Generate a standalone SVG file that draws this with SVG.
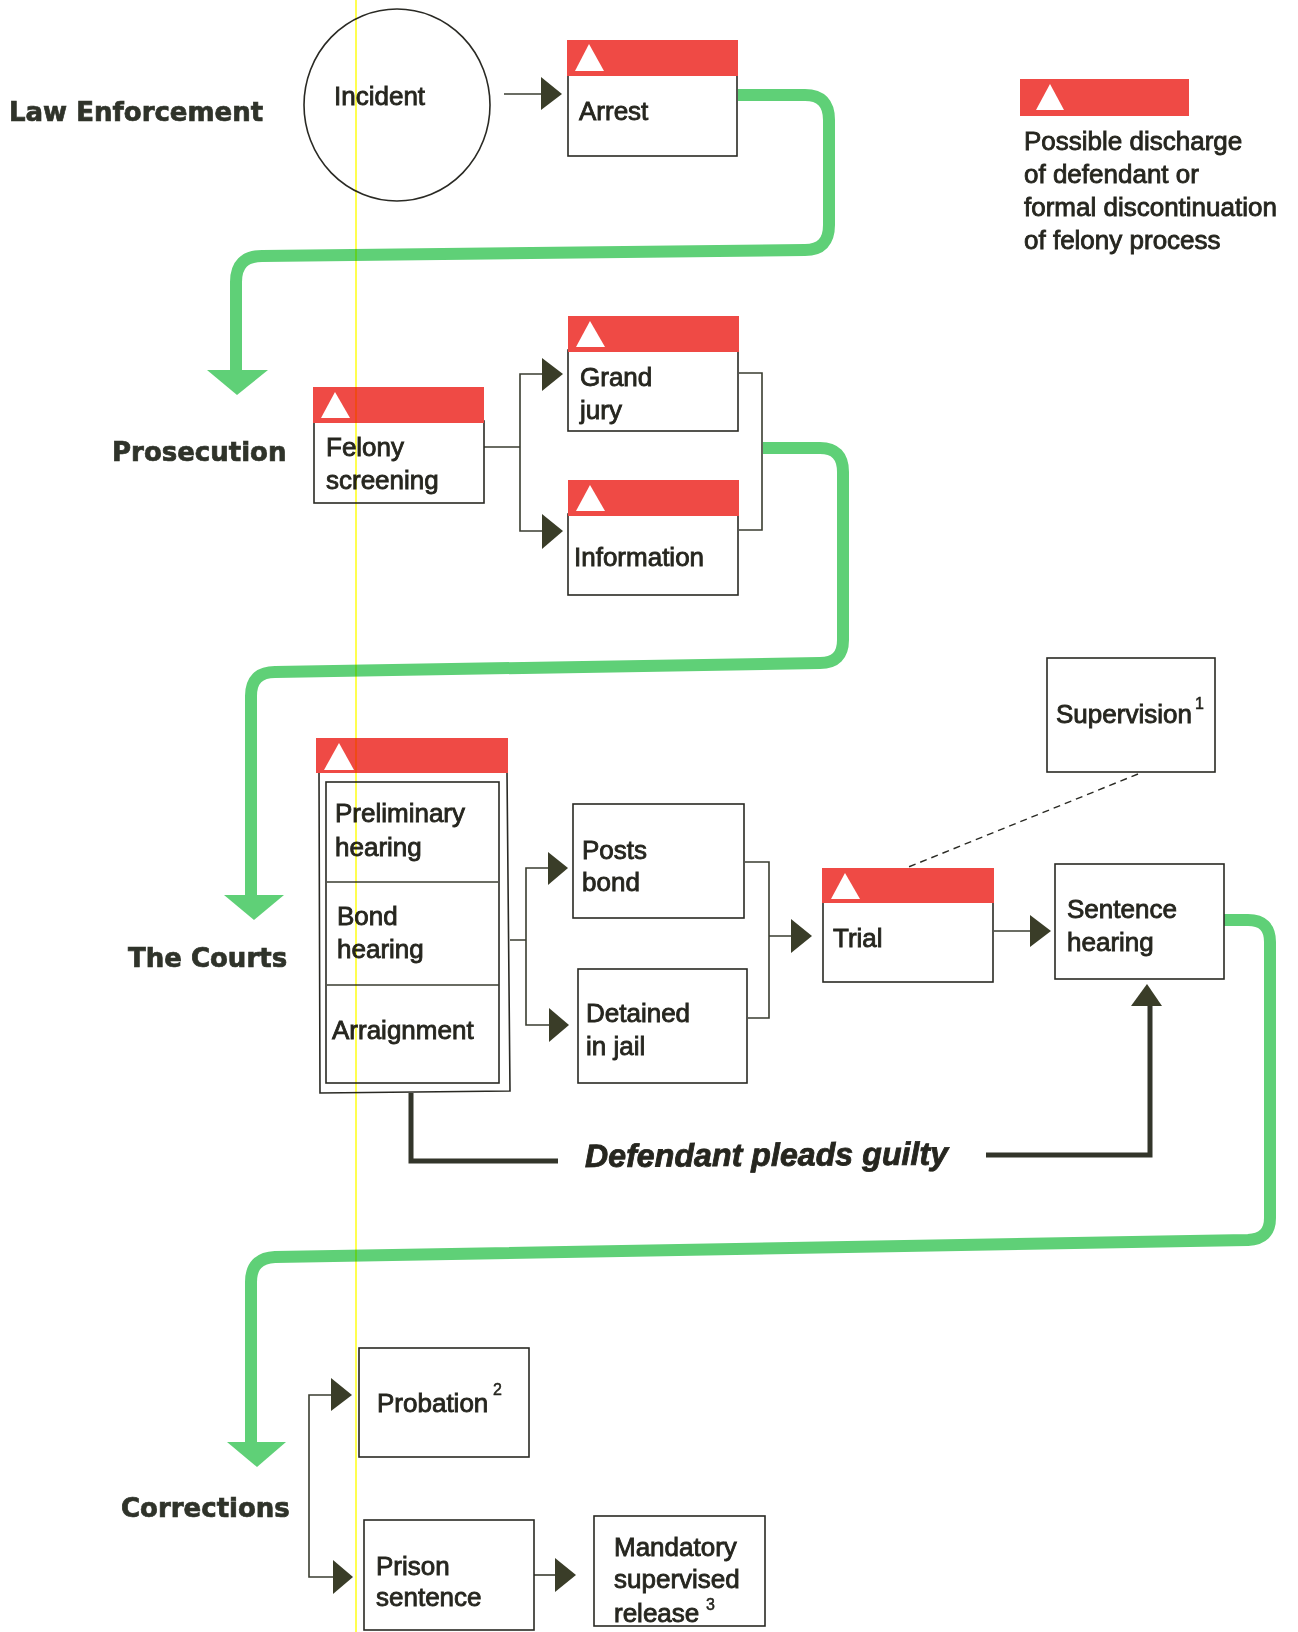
<svg xmlns="http://www.w3.org/2000/svg" width="1298" height="1632" viewBox="0 0 1298 1632">
<style>
text{font-family:"Liberation Sans",Arial,sans-serif;font-size:26px;fill:#26261f;stroke:#26261f;stroke-width:.85px}
.stage{font-family:"DejaVu Sans",sans-serif;font-weight:700;font-size:26px;fill:#2f332a;stroke:#2f332a;stroke-width:.7px}
.sup{font-size:16px;stroke-width:.5px}
.box{fill:#fff;stroke:#2a2a24;stroke-width:1.6}
.red{fill:#ef4a45}
.tri{fill:#fff}
.thin{fill:none;stroke:#3a3d30;stroke-width:1.6}
.green{fill:none;stroke:#5fd077;stroke-width:12}
.ghead{fill:#5fd077}
.head{fill:#3a3d28}
.thick{fill:none;stroke:#33352a;stroke-width:5}
.dash{fill:none;stroke:#2a2a24;stroke-width:1.4;stroke-dasharray:7 5}
</style>
<rect width="1298" height="1632" fill="#fff"/>
<g id="connectors">
<path class="thin" d="M504 94H542"/><polygon class="head" points="541,77 562,94 541,110"/>
<path class="green" d="M738 95H805Q829 95 829 120V225Q829 250 805 250L262 256Q236 256 236 282V372"/><polygon class="ghead" points="207,370 268,370 237,395"/>
<path class="thin" d="M484 447H520M543 374H520V531H543"/><polygon class="head" points="542,358 563,374 542,391"/><polygon class="head" points="542,514 563,531 542,549"/>
<path class="thin" d="M739 373H762V530H739"/>
<path class="green" d="M763 448H820Q843 448 843 472V640Q843 663 820 663L275 672Q251 672 251 696V897"/><polygon class="ghead" points="224,895 284,895 254,920"/>
<path class="thin" d="M510 940H526M549 868H526V1025H549"/><polygon class="head" points="548,852 568,868 548,885"/><polygon class="head" points="549,1008 569,1025 549,1042"/>
<path class="thin" d="M745 862H769V1018H748M769 936H792"/><polygon class="head" points="791,919 812,936 791,953"/>
<path class="thin" d="M994 931H1031"/><polygon class="head" points="1030,915 1051,931 1030,947"/>
<path class="dash" d="M1138 774L906 868"/>
<path class="green" d="M1224 920H1248Q1270 920 1270 942V1218Q1270 1239 1248 1240L275 1257Q251 1258 251 1282V1444"/><polygon class="ghead" points="227,1442 286,1442 257,1467"/>
<path class="thick" d="M411 1093V1161H558"/>
<path class="thick" d="M986 1155H1150V1004"/><polygon class="head" points="1131,1006 1162,1006 1147,984"/>
<path class="thin" d="M331 1395H309V1577H333"/><polygon class="head" points="331,1378 352,1395 331,1411"/><polygon class="head" points="333,1560 353,1577 333,1594"/>
<path class="thin" d="M534 1575H556"/><polygon class="head" points="555,1558 576,1575 555,1592"/>
</g>
<g id="stage-labels">
<text class="stage" x="9" y="121">Law Enforcement</text>
<text class="stage" x="112" y="461">Prosecution</text>
<text class="stage" x="128" y="967">The Courts</text>
<text class="stage" x="121" y="1517">Corrections</text>
</g>
<g id="incident"><ellipse class="box" cx="397" cy="105" rx="93" ry="96"/><text x="334" y="105">Incident</text></g>
<g id="arrest"><rect class="box" x="568" y="74" width="169" height="82"/><rect class="red" x="567" y="40" width="171" height="36"/><polygon class="tri" points="589,44 575,71 604,71"/><text x="579" y="120">Arrest</text></g>
<g id="legend"><rect class="red" x="1020" y="79" width="169" height="37"/><polygon class="tri" points="1050,84 1036,110 1064,110"/>
<text x="1024" y="150">Possible discharge</text><text x="1024" y="183">of defendant or</text><text x="1024" y="216">formal discontinuation</text><text x="1024" y="249">of felony process</text></g>
<g id="felony-screening"><rect class="box" x="314" y="421" width="170" height="82"/><rect class="red" x="313" y="387" width="171" height="36"/><polygon class="tri" points="335,392 321,418 350,418"/><text x="326" y="456">Felony</text><text x="326" y="489">screening</text></g>
<g id="grand-jury"><rect class="box" x="568" y="350" width="170" height="81"/><rect class="red" x="568" y="316" width="171" height="36"/><polygon class="tri" points="590,321 576,347 605,347"/><text x="580" y="386">Grand</text><text x="580" y="419">jury</text></g>
<g id="information"><rect class="box" x="568" y="514" width="170" height="81"/><rect class="red" x="568" y="480" width="171" height="36"/><polygon class="tri" points="590,485 576,511 605,511"/><text x="574" y="566">Information</text></g>
<g id="court-hearings"><polygon class="box" points="319,772 507,772 510,1091 320,1093"/><rect class="red" x="316" y="738" width="192" height="35"/><polygon class="tri" points="339,743 324,770 354,770"/>
<rect class="box" x="326" y="782" width="173" height="301"/><path class="thin" d="M327 882H498M327 985H499"/>
<text x="335" y="822">Preliminary</text><text x="335" y="856">hearing</text><text x="337" y="925">Bond</text><text x="337" y="958">hearing</text><text x="332" y="1039">Arraignment</text></g>
<g id="posts-bond"><rect class="box" x="573" y="804" width="171" height="114"/><text x="582" y="859">Posts</text><text x="582" y="891">bond</text></g>
<g id="detained"><rect class="box" x="578" y="969" width="169" height="114"/><text x="586" y="1022">Detained</text><text x="586" y="1055">in jail</text></g>
<g id="trial"><rect class="box" x="823" y="901" width="170" height="81"/><rect class="red" x="822" y="868" width="172" height="35"/><polygon class="tri" points="845,873 831,899 860,899"/><text x="833" y="947">Trial</text></g>
<g id="supervision"><rect class="box" x="1047" y="658" width="168" height="114"/><text x="1056" y="723">Supervision</text><text class="sup" x="1195" y="709">1</text></g>
<g id="sentence-hearing"><rect class="box" x="1055" y="864" width="169" height="115"/><text x="1067" y="918">Sentence</text><text x="1067" y="951">hearing</text></g>
<g id="guilty-label"><text x="585" y="1167" style="font-size:32.2px;font-style:italic;font-weight:700" transform="rotate(-.4 585 1167)">Defendant pleads guilty</text></g>
<g id="probation"><rect class="box" x="359" y="1348" width="170" height="109"/><text x="377" y="1412">Probation</text><text class="sup" x="493" y="1395">2</text></g>
<g id="prison-sentence"><rect class="box" x="364" y="1520" width="170" height="110"/><text x="376" y="1575">Prison</text><text x="376" y="1606">sentence</text></g>
<g id="mandatory-release"><rect class="box" x="594" y="1516" width="171" height="110"/><text x="614" y="1556">Mandatory</text><text x="614" y="1588">supervised</text><text x="614" y="1622">release</text><text class="sup" x="706" y="1610">3</text></g>
<path id="scan-line" d="M356 0V1632" stroke="#ffff50" stroke-width="2" fill="none" style="mix-blend-mode:multiply"/>
</svg>
